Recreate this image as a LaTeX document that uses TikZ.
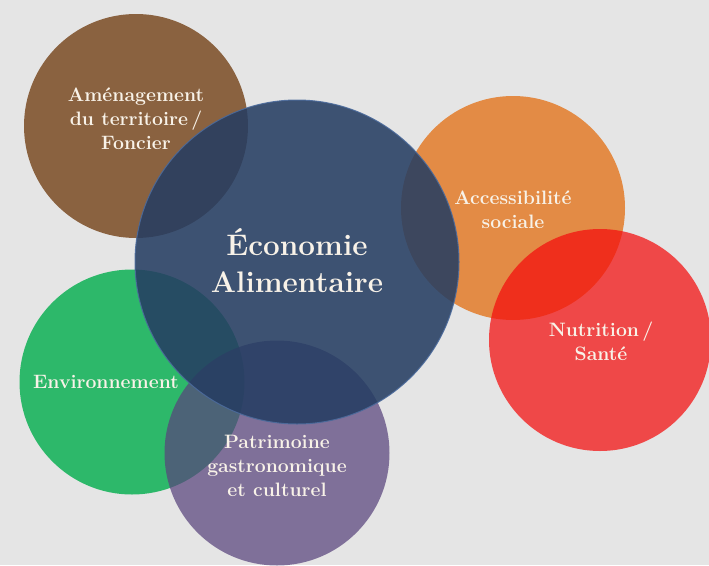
\documentclass[tikz,border=0pt]{standalone}
\usepackage{fontspec}
\definecolor{bgray}{HTML}{E5E5E5}
\definecolor{cbrown}{HTML}{8A6240}
\definecolor{cblue}{RGB}{37,61,98}
\definecolor{cblueedge}{HTML}{4C6B9C}
\definecolor{corange}{HTML}{E38B45}
\definecolor{cred}{RGB}{244,14,14}
\definecolor{cgreen}{HTML}{2DB86A}
\definecolor{cpurple}{RGB}{89,67,125}
\definecolor{ctext}{HTML}{F8F2E8}
\begin{document}
\begin{tikzpicture}[x=1pt,y=-1pt]
	\tikzstyle{theme}=[circle,inner sep=0pt]
	\tikzstyle{small-lbl}=[text=ctext,align=center,font=\fontsize{19.4}{24}\selectfont\bfseries]
	\tikzstyle{big-lbl}=[text=ctext,align=center,font=\fontsize{29.7}{37}\selectfont\bfseries]
	% background
	\fill[bgray] (0,0) rectangle (709,565);
	\useasboundingbox (0,0) rectangle (709,565);

	% outer themes
	\node[theme,fill=cbrown,minimum size=224pt]	(amen)	at (136,126)	{};
	\node[theme,fill=cgreen,minimum size=225pt]	(envi)	at (132,382)	{};
	\node[theme,fill=cpurple,fill opacity=0.72,minimum size=225pt]	(patr)	at (277,453)	{};
	\node[theme,fill=corange,minimum size=224pt]	(acce)	at (513,208)	{};
	\node[theme,fill=cred,fill opacity=0.73,minimum size=222pt]	(nutr)	at (600,340)	{};

	% centre
	\node[theme,fill=cblue,fill opacity=0.87,draw=cblueedge,draw opacity=0.9,line width=1pt,minimum size=324pt]	(econ)	at (297,262)	{};

	% labels
	\node[small-lbl]	(amen-t)	at (136,119)	{Aménagement\\du territoire\,/\\Foncier};
	\node[small-lbl]	(acce-t)	at (513,210)	{Accessibilité\\sociale};
	\node[small-lbl]	(nutr-t)	at (601,341)	{Nutrition\,/\\Santé};
	\node[small-lbl]	(envi-t)	at (106,382)	{Environnement};
	\node[small-lbl]	(patr-t)	at (277,466)	{Patrimoine\\gastronomique\\et culturel};
	\node[big-lbl]	(econ-t)	at (297,261)	{Économie\\Alimentaire};
\end{tikzpicture}
\end{document}
